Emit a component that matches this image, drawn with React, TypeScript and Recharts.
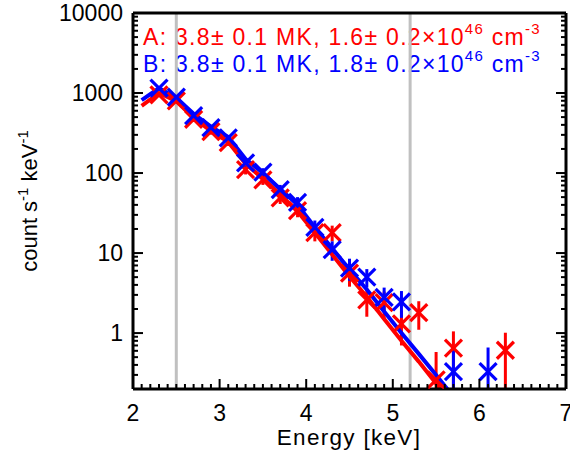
import React from 'react';
import {
  ComposedChart,
  XAxis,
  YAxis,
  Line,
  Scatter,
  ErrorBar,
  ReferenceLine,
  Customized,
} from 'recharts';

// observed spectrum A (red)
const energyA = [2.3, 2.5, 2.7, 2.9, 3.1, 3.3, 3.5, 3.7, 3.9, 4.1, 4.3, 4.5, 4.7, 4.9, 5.1, 5.3, 5.5, 5.7, 6.3];
const countsA = [950, 800, 470, 330, 240, 110, 82, 49, 34, 18, 18, 5.6, 2.6, 2.4, 1.3, 1.8, 0.26, 0.65, 0.61];
const errLowA = [60, 50, 35, 28, 22, 14, 11, 8, 6, 4, 4, 1.8, 1.0, 0.9, 0.6, 0.7, 0.06, 0.45, 0.41];
const errHighA = [60, 50, 35, 28, 22, 14, 11, 8, 6, 4, 4, 1.8, 1.0, 0.9, 0.6, 0.7, 0.32, 0.4, 0.4];

// observed spectrum B (blue)
const energyB = [2.3, 2.5, 2.7, 2.9, 3.1, 3.3, 3.5, 3.7, 3.9, 4.1, 4.3, 4.5, 4.7, 4.9, 5.1, 5.7, 6.1];
const countsB = [1150, 890, 520, 370, 275, 134, 103, 62, 43, 21, 11, 6.5, 5.0, 2.8, 2.45, 0.33, 0.33];
const errLowB = [65, 55, 38, 30, 24, 15, 12, 9, 7, 4.5, 3, 2, 1.3, 0.9, 0.9, 0.13, 0.13];
const errHighB = [65, 55, 38, 30, 24, 15, 12, 9, 7, 4.5, 3, 2, 1.3, 0.9, 0.9, 0.32, 0.33];

// thermal model fits
const modelEnergy = [2.1, 2.3, 2.5, 2.7, 2.9, 3.1, 3.3, 3.5, 3.7, 3.9, 4.1, 4.3, 4.5, 4.7, 4.9, 5.1, 5.3, 5.5, 5.7];
const modelA = [690, 1000, 790, 490, 335, 245, 130, 86, 54, 33, 18, 9.6, 5.1, 2.85, 1.5, 0.8, 0.44, 0.235, 0.125];
const modelB = [813, 1148, 871, 550, 380, 282, 150, 100, 63, 40, 21, 11.5, 6.2, 3.5, 1.86, 1.0, 0.55, 0.3, 0.16];

// energy band limits
const bandLimits = [2.5, 5.2];

const xMajor = [2, 3, 4, 5, 6, 7];
const yMajor = [1, 10, 100, 1000, 10000];

const xTicks: number[] = [];
for (let i = 20; i <= 70; i++) xTicks.push(i / 10);
const yTicks: number[] = [];
for (let d = -1; d <= 4; d++) {
  for (let m = 1; m <= 9; m++) {
    const v = m * Math.pow(10, d);
    if (v >= 0.2 && v <= 10000) yTicks.push(d < 0 ? m / 10 : v);
  }
}

const RED = '#ff0000';
const BLUE = '#0000ff';
const FONT = '"Liberation Sans", Arial, Helvetica, sans-serif';

const specA = energyA.map((x, i) => ({ x, y: countsA[i], err: [errLowA[i], errHighA[i]] }));
const specB = energyB.map((x, i) => ({ x, y: countsB[i], err: [errLowB[i], errHighB[i]] }));
const fitA = modelEnergy.map((x, i) => ({ x, y: modelA[i] }));
const fitB = modelEnergy.map((x, i) => ({ x, y: modelB[i] }));

const isXMajor = (v: number) => xMajor.some((m) => Math.abs(m - v) < 1e-6);
const isYMajor = (v: number) => yMajor.some((m) => Math.abs(m - v) < 1e-9);

const cross = (color: string) => (props: any) => {
  const { cx, cy } = props;
  const s = 8.5;
  return (
    <g stroke={color} strokeWidth={3.2}>
      <line x1={cx - s} y1={cy - s} x2={cx + s} y2={cy + s} />
      <line x1={cx - s} y1={cy + s} x2={cx + s} y2={cy - s} />
    </g>
  );
};

const BottomTick = (props: any) => {
  const { x, y, payload } = props;
  const major = isXMajor(payload.value);
  return (
    <g>
      <line x1={x} x2={x} y1={y} y2={y - (major ? 10 : 5)} stroke="#000" strokeWidth={2} />
      {major && (
        <text x={x} y={y + 32} textAnchor="middle" fontSize={23} fontFamily={FONT} fill="#000">
          {Math.round(payload.value)}
        </text>
      )}
    </g>
  );
};

const TopTick = (props: any) => {
  const { x, y, payload } = props;
  const major = isXMajor(payload.value);
  return <line x1={x} x2={x} y1={y} y2={y + (major ? 10 : 5)} stroke="#000" strokeWidth={2} />;
};

const LeftTick = (props: any) => {
  const { x, y, payload } = props;
  const major = isYMajor(payload.value);
  return (
    <g>
      <line x1={x} x2={x + (major ? 10 : 5)} y1={y} y2={y} stroke="#000" strokeWidth={2} />
      {major && (
        <text x={x - 10} y={y + 8} textAnchor="end" fontSize={23} fontFamily={FONT} fill="#000">
          {String(Math.round(payload.value))}
        </text>
      )}
    </g>
  );
};

const RightTick = (props: any) => {
  const { x, y, payload } = props;
  const major = isYMajor(payload.value);
  return <line x1={x} x2={x - (major ? 10 : 5)} y1={y} y2={y} stroke="#000" strokeWidth={2} />;
};

const Texts = () => (
  <g fontFamily={FONT}>
    <text x={143} y={45} fontSize={23} letterSpacing={1.3} fill={RED}>
      A: 3.8± 0.1 MK, 1.6± 0.2×10
      <tspan dy={-11} fontSize={15}>46</tspan>
      <tspan dy={11}> cm</tspan>
      <tspan dy={-11} fontSize={15}>-3</tspan>
    </text>
    <text x={143} y={72} fontSize={23} letterSpacing={1.3} fill={BLUE}>
      B: 3.8± 0.1 MK, 1.8± 0.2×10
      <tspan dy={-11} fontSize={15}>46</tspan>
      <tspan dy={11}> cm</tspan>
      <tspan dy={-11} fontSize={15}>-3</tspan>
    </text>
    <text x={349} y={445} fontSize={22.5} letterSpacing={1.3} textAnchor="middle" fill="#000">
      Energy [keV]
    </text>
    <text x={37} y={201} fontSize={22} textAnchor="middle" fill="#000" transform="rotate(-90, 37, 201)">
      count s<tspan dy={-9} fontSize={15}>-1</tspan>
      <tspan dy={9}> keV</tspan>
      <tspan dy={-9} fontSize={15}>-1</tspan>
    </text>
  </g>
);

export default function App() {
  return (
    <div style={{ position: 'absolute', left: 0, top: 0, background: '#fff' }}>
      <ComposedChart width={570} height={455} margin={{ top: 12, right: 3, bottom: 0, left: 0 }}>
        <XAxis
          xAxisId={0}
          dataKey="x"
          type="number"
          domain={[2, 7]}
          allowDataOverflow
          ticks={xTicks}
          interval={0}
          height={66}
          tickSize={0}
          tickMargin={0}
          tickLine={false}
          axisLine={{ stroke: '#000', strokeWidth: 3 }}
          tick={BottomTick}
        />
        <XAxis
          xAxisId="top"
          orientation="top"
          type="number"
          domain={[2, 7]}
          allowDataOverflow
          ticks={xTicks}
          interval={0}
          height={1}
          tickSize={0}
          tickMargin={0}
          tickLine={false}
          axisLine={{ stroke: '#000', strokeWidth: 3 }}
          tick={TopTick}
        />
        <YAxis
          yAxisId={0}
          dataKey="y"
          type="number"
          scale="log"
          domain={[0.2, 10000]}
          allowDataOverflow
          ticks={yTicks}
          interval={0}
          width={133}
          tickSize={0}
          tickMargin={0}
          tickLine={false}
          axisLine={{ stroke: '#000', strokeWidth: 3 }}
          tick={LeftTick}
        />
        <YAxis
          yAxisId="right"
          orientation="right"
          type="number"
          scale="log"
          domain={[0.2, 10000]}
          allowDataOverflow
          ticks={yTicks}
          interval={0}
          width={1}
          tickSize={0}
          tickMargin={0}
          tickLine={false}
          axisLine={{ stroke: '#000', strokeWidth: 3 }}
          tick={RightTick}
        />
        {bandLimits.map((e) => (
          <ReferenceLine key={e} x={e} stroke="#c0c0c0" strokeWidth={3} />
        ))}
        <Scatter data={specA} dataKey="y" shape={cross(RED)} isAnimationActive={false}>
          <ErrorBar dataKey="err" direction="y" width={0} stroke={RED} strokeWidth={3} />
        </Scatter>
        <Scatter data={specB} dataKey="y" shape={cross(BLUE)} isAnimationActive={false}>
          <ErrorBar dataKey="err" direction="y" width={0} stroke={BLUE} strokeWidth={3} />
        </Scatter>
        <Line data={fitA} dataKey="y" stroke={RED} strokeWidth={4} dot={false} type="linear" isAnimationActive={false} />
        <Line data={fitB} dataKey="y" stroke={BLUE} strokeWidth={4} dot={false} type="linear" isAnimationActive={false} />
        <Customized component={Texts} />
      </ComposedChart>
    </div>
  );
}
